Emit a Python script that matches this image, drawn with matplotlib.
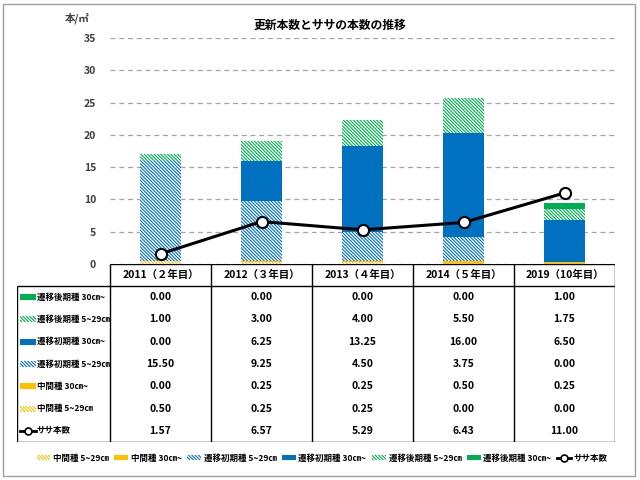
import matplotlib.pyplot as plt
import matplotlib.patches as mpatches
from matplotlib.lines import Line2D
import numpy as np

plt.rcParams['font.family'] = ['Noto Sans CJK JP', 'DejaVu Sans']
plt.rcParams['font.weight'] = 'bold'
plt.rcParams['hatch.linewidth'] = 0.8

title = '更新本数とササの本数の推移'
years = ['2011（２年目）', '2012（３年目）', '2013（４年目）', '2014（５年目）', '2019（10年目）']

# stacked series, bottom to top
mid_small = [0.50, 0.25, 0.25, 0.00, 0.00]
mid_large = [0.00, 0.25, 0.25, 0.50, 0.25]
early_small = [15.50, 9.25, 4.50, 3.75, 0.00]
early_large = [0.00, 6.25, 13.25, 16.00, 6.50]
late_small = [1.00, 3.00, 4.00, 5.50, 1.75]
late_large = [0.00, 0.00, 0.00, 0.00, 1.00]
sasa = [1.57, 6.57, 5.29, 6.43, 11.00]

names = ['中間種 5~29㎝', '中間種 30㎝~', '遷移初期種 5~29㎝', '遷移初期種 30㎝~',
         '遷移後期種 5~29㎝', '遷移後期種 30㎝~']
sasa_name = 'ササ本数'

yellow = '#FFC000'
blue = '#0070C0'
green = '#00B050'
styles = [(yellow, True), (yellow, False), (blue, True), (blue, False),
          (green, True), (green, False)]
series = [mid_small, mid_large, early_small, early_large, late_small, late_large]
HATCH = '\\' * 10

fig = plt.figure(figsize=(6.4, 4.8), dpi=100)


def px(l, t, r, b):
    return [l / 640, 1 - b / 480, (r - l) / 640, (b - t) / 480]


# outer frame
fig.add_artist(mpatches.Rectangle((3 / 640, 4 / 480), 632 / 640, 472 / 480,
                                  transform=fig.transFigure, fill=False,
                                  edgecolor='#A0A0A0', lw=1))

ax = fig.add_axes(px(110, 38, 615, 264))
x = np.arange(len(years))
bottom = np.zeros(len(years))
handles = []
for vals, name, (c, hatched) in zip(series, names, styles):
    if hatched:
        b = ax.bar(x, vals, 0.41, bottom=bottom, facecolor='white', edgecolor=c,
                   hatch=HATCH, lw=0, label=name, zorder=2)
    else:
        b = ax.bar(x, vals, 0.41, bottom=bottom, color=c, lw=0, label=name, zorder=2)
    handles.append(b)
    bottom += np.array(vals)

ax.plot(x, sasa, color='black', lw=2.2, marker='o', markersize=8,
        markerfacecolor='white', markeredgecolor='black', markeredgewidth=1.5,
        label=sasa_name, zorder=4)

ax.set_xlim(-0.5, len(years) - 0.5)
ax.set_ylim(0, 35)
ax.set_yticks(np.arange(0, 36, 5))
ax.set_yticklabels([str(v) for v in range(0, 36, 5)], fontsize=7.5, fontweight='bold',
                   color='#404040')
ax.tick_params(axis='y', length=0, pad=10)
ax.set_xticks([])
for s in ax.spines.values():
    s.set_visible(False)
ax.yaxis.grid(True, linestyle=(0, (4, 3)), color='#A6A6A6', lw=0.9, zorder=0)
ax.set_axisbelow(True)
ax.text(-0.04, 1.06, '本/㎡', transform=ax.transAxes, ha='right', va='bottom',
        fontsize=7.5, fontweight='bold', color='#404040')
fig.text(330 / 640, 1 - 25 / 480, title, ha='center', va='center',
         fontsize=8.5, fontweight='bold')

# data table under the chart
tab = fig.add_axes(px(17, 264, 615, 442))
tab.set_xlim(17, 615)
tab.set_ylim(442, 264)
tab.axis('off')
col_left = 110
col_w = (615 - 110) / len(years)
head_bot = 286
row_h = (442 - head_bot) / 7
lkw = dict(color='black', lw=1, solid_capstyle='butt')
tab.plot([col_left, 615], [264, 264], **lkw)
tab.plot([17, 615], [head_bot, head_bot], **lkw)
tab.plot([17, 615], [442, 442], **lkw)
tab.plot([17, 17], [head_bot, 442], **lkw)
for i in range(len(years) + 1):
    xx = col_left + i * col_w
    tab.plot([xx, xx], [264, 442], **lkw)
for i, yl in enumerate(years):
    tab.text(col_left + (i + 0.5) * col_w, (264 + head_bot) / 2, yl,
             ha='center', va='center', fontsize=7.5, fontweight='bold')

rows = list(zip(series, names, styles))[::-1]
for r, (vals, name, (c, hatched)) in enumerate(rows):
    yc = head_bot + (r + 0.5) * row_h
    if hatched:
        p = mpatches.Rectangle((20, yc - 3), 16, 6, facecolor='white', edgecolor=c,
                               hatch=HATCH, lw=0)
    else:
        p = mpatches.Rectangle((20, yc - 3), 16, 6, facecolor=c, lw=0)
    tab.add_patch(p)
    tab.text(37, yc, name, ha='left', va='center', fontsize=6.1, fontweight='bold')
    for i, v in enumerate(vals):
        tab.text(col_left + (i + 0.5) * col_w, yc, f'{v:.2f}', ha='center', va='center',
                 fontsize=7.5, fontweight='bold')
yc = head_bot + 6.5 * row_h
tab.plot([20, 36], [yc, yc], color='black', lw=2)
tab.plot([28], [yc], marker='o', markersize=5, markerfacecolor='white',
         markeredgecolor='black', markeredgewidth=1.2)
tab.text(37, yc, sasa_name, ha='left', va='center', fontsize=6.1, fontweight='bold')
for i, v in enumerate(sasa):
    tab.text(col_left + (i + 0.5) * col_w, yc, f'{v:.2f}', ha='center', va='center',
             fontsize=7.5, fontweight='bold')

sasa_handle = Line2D([], [], color='black', lw=2, marker='o', markersize=5,
                     markerfacecolor='white', markeredgecolor='black',
                     markeredgewidth=1.2)
fig.legend(handles + [sasa_handle], names + [sasa_name], loc='center',
           bbox_to_anchor=(322 / 640, 1 - 458 / 480), ncol=7, frameon=False,
           fontsize=6.1, handlelength=1.6, handleheight=0.6, handletextpad=0.3,
           columnspacing=0.7, borderaxespad=0, borderpad=0)

fig.savefig('out.png', dpi=100)
